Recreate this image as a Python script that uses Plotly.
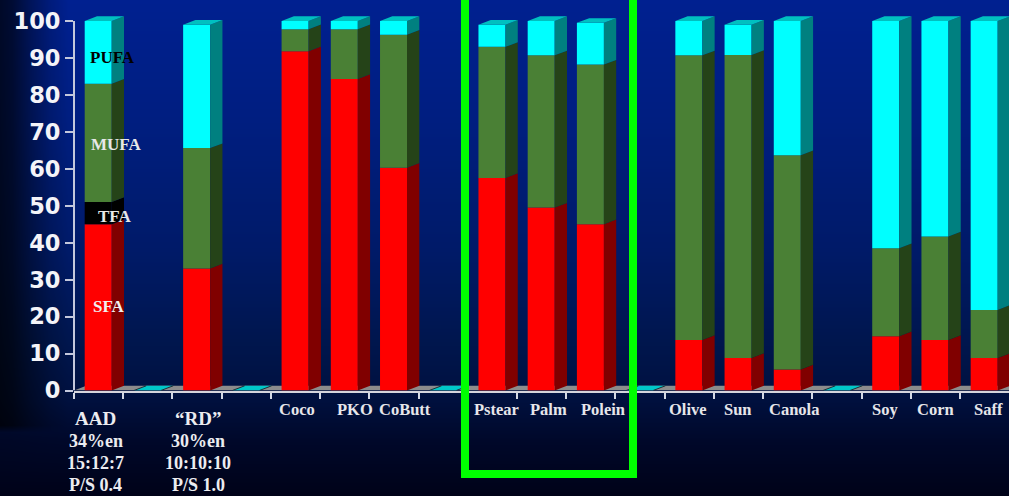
import base64
import struct
import zlib

import numpy as np
import plotly.graph_objects as go

# Fatty-acid composition (% of total) per diet or fat, placed on slots along the x axis.
slots = [0, 2, 4, 5, 6, 8, 9, 10, 12, 13, 14, 16, 17, 18]
empty_slots = [1, 3, 7, 11, 15]
names = ["AAD", "RD", "Coco", "PKO", "CoButt", "Pstear", "Palm", "Polein",
         "Olive", "Sun", "Canola", "Soy", "Corn", "Saff"]
sfa = [45, 33, 91.8, 84.3, 60.3, 57.5, 49.5, 45, 13.7, 8.8, 5.7, 14.7, 13.7, 8.8]
tfa = [6, 0, 0, 0, 0, 0, 0, 0, 0, 0, 0, 0, 0, 0]
mufa = [32, 32.6, 6, 13.5, 36, 35.5, 41.2, 43.2, 77, 82, 58, 23.8, 28, 13]
pufa = [17, 33.4, 2.2, 2.2, 3.7, 6, 9.3, 11.3, 9.3, 8.2, 36.3, 61.5, 58.3, 78.2]

y_ticks = list(range(0, 101, 10))
diet_notes = {
    "AAD": ["AAD", "34%en", "15:12:7", "P/S 0.4"],
    "RD": ["\u201cRD\u201d", "30%en", "10:10:10", "P/S 1.0"],
}
fatty_acid_tags = ["PUFA", "MUFA", "TFA", "SFA"]
tag_heights = [90, 66.5, 47, 22.7]
tag_nudges = [-2.5, 1, -0.5, -6]
tag_colors = ["#000000", "#e8e8e8", "#e8e8e8", "#f0f0f0"]

# Page geometry, in pixels.
W, H = 1009, 496
AXIS_LEFT, AXIS_BOTTOM = 74, 390.5
SLOT_PX, VALUE_PX = 49.22, 3.695
FIRST_BAR_CENTER = 98.2
BAR_PX = 27
DEPTH_X = 12.3 / SLOT_PX
DEPTH_Y = 4.7 / VALUE_PX
BAR_W = BAR_PX / SLOT_PX
X_LOW = (AXIS_LEFT - FIRST_BAR_CENTER) / SLOT_PX
X_HIGH = (W - FIRST_BAR_CENTER) / SLOT_PX
Y_HIGH = 105


def backdrop_uri():
    """Blue slide backdrop: bright at the top, fading down and towards the left edge."""
    xs = np.arange(W)
    ys = np.arange(H)
    blue = np.interp(ys, [0, 120, 250, 340, 400, 440, 496], [144, 128, 104, 78, 62, 42, 24])
    green = np.interp(ys, [0, 120, 250, 340, 400, 440, 496], [32, 30, 26, 22, 16, 8, 2])
    left = np.interp(xs, [0, 12, 30, 50, 68], [0.28, 0.36, 0.62, 0.86, 1.0])
    fade = np.interp(ys, [0, 425, 432, 496], [0, 0, 0.85, 1.0])[:, None]
    mix = left[None, :] * (1 - fade) + fade
    rgb = np.zeros((H, W, 3), dtype=np.uint8)
    rgb[..., 1] = np.round(green[:, None] * mix)
    rgb[..., 2] = np.round(blue[:, None] * mix)
    raw = b"".join(b"\x00" + row.tobytes() for row in rgb)

    def chunk(tag, body):
        return struct.pack(">I", len(body)) + tag + body + struct.pack(">I", zlib.crc32(tag + body))

    png = (b"\x89PNG\r\n\x1a\n"
           + chunk(b"IHDR", struct.pack(">IIBBBBB", W, H, 8, 2, 0, 0, 0))
           + chunk(b"IDAT", zlib.compress(raw, 9))
           + chunk(b"IEND", b""))
    return "data:image/png;base64," + base64.b64encode(png).decode()


def extruded_faces(bottoms, tops):
    """Outline of the right-hand face of each stacked segment."""
    xs, ys = [], []
    for slot, low, high in zip(slots, bottoms, tops):
        if high <= low:
            continue
        edge = slot + BAR_W / 2
        xs += [edge, edge + DEPTH_X, edge + DEPTH_X, edge, edge, None]
        ys += [low, low + DEPTH_Y, high + DEPTH_Y, high, low, None]
    return xs, ys


series = [
    ("SFA", sfa, "#ff0000", "#800000"),
    ("TFA", tfa, "#000000", "#000000"),
    ("MUFA", mufa, "#4a8035", "#254318"),
    ("PUFA", pufa, "#00ffff", "#008080"),
]

fig = go.Figure()
stack = np.zeros(len(slots))
for label, values, front, side in series:
    values = np.array(values, dtype=float)
    fig.add_bar(x=slots, y=values, base=stack, width=BAR_W, name=label,
                marker=dict(color=front, line=dict(width=0)), showlegend=False, hoverinfo="skip")
    fx, fy = extruded_faces(stack, stack + values)
    fig.add_scatter(x=fx, y=fy, mode="lines", fill="toself", fillcolor=side,
                    line=dict(width=0), showlegend=False, hoverinfo="skip")
    stack = stack + values

# Top faces of the finished stacks.
cap_x, cap_y = [], []
for slot, top in zip(slots, stack):
    left = slot - BAR_W / 2
    right = slot + BAR_W / 2
    cap_x += [left, left + DEPTH_X, right + DEPTH_X, right, left, None]
    cap_y += [top, top + DEPTH_Y, top + DEPTH_Y, top, top, None]
fig.add_scatter(x=cap_x, y=cap_y, mode="lines", fill="toself", fillcolor="#00c0c0",
                line=dict(width=0), showlegend=False, hoverinfo="skip")

shapes = []
# Grey floor of the chart, with cyan caps on the zero-height empty slots.
shapes.append(dict(type="path", layer="below", xref="x", yref="y", line=dict(width=0),
                   fillcolor="#8c8c8c",
                   path=f"M {X_LOW} 0 L {X_LOW + DEPTH_X} {DEPTH_Y} L {X_HIGH} {DEPTH_Y} L {X_HIGH} 0 Z"))
for slot in empty_slots:
    a, b = slot - BAR_W / 2, slot + BAR_W / 2
    shapes.append(dict(type="path", layer="below", xref="x", yref="y", line=dict(width=0),
                       fillcolor="#00c8c8",
                       path=f"M {a} 0 L {a + DEPTH_X} {DEPTH_Y} L {b + DEPTH_X} {DEPTH_Y} L {b} 0 Z"))
    for edge in (a, b):
        shapes.append(dict(type="line", layer="below", xref="x", yref="y", x0=edge, y0=0,
                           x1=edge + DEPTH_X, y1=DEPTH_Y, line=dict(color="#1c3038", width=1)))

# Vertical axis line, stopping at the top tick.
shapes.append(dict(type="line", xref="paper", yref="y",
                   x0=AXIS_LEFT / W, x1=AXIS_LEFT / W, y0=0, y1=100,
                   line=dict(color="#c4c8dc", width=2)))

# Green highlight bracket round the palm fractions.
gx0, gx1, gy = 465 / W, 633 / W, 1 - 474 / H
shapes.append(dict(type="path", xref="paper", yref="paper", line=dict(color="#00ff00", width=8),
                   path=f"M {gx0} 1.05 L {gx0} {gy} L {gx1} {gy} L {gx1} 1.05"))

annotations = []
serif = "Liberation Serif"
# Names under the axis; the two diets get a stack of notes instead.
label_nudges = {"Coco": 1.5, "PKO": 10.5, "CoButt": 11.5, "Pstear": 4.5, "Palm": 7.5, "Polein": 12.5,
                "Olive": -0.5, "Sun": -0.5, "Canola": 6.5, "Soy": -0.5, "Corn": 0.5, "Saff": 4.5}
for slot, name in zip(slots, names):
    if name in diet_notes:
        nudge = -2.5 if name == "AAD" else 1.5
        for row, (text, py) in enumerate(zip(diet_notes[name], [418, 441, 463, 485])):
            annotations.append(dict(x=slot, xref="x", xshift=nudge, y=1 - py / H, yref="paper",
                                    yanchor="middle", xanchor="center",
                                    text=f"<b>{text}</b>", showarrow=False,
                                    font=dict(family=serif, size=19 if row == 0 else 18, color="#ececf0")))
    else:
        annotations.append(dict(x=slot, xref="x", xshift=label_nudges[name], y=1 - 409 / H, yref="paper",
                                yanchor="middle", xanchor="center",
                                text=f"<b>{name}</b>", showarrow=False,
                                font=dict(family=serif, size=16.5, color="#e6e6ea")))

for tag, height, nudge, color in zip(fatty_acid_tags, tag_heights, tag_nudges, tag_colors):
    annotations.append(dict(x=slots[0], xref="x", xshift=nudge + 17, y=height, yref="y",
                            yanchor="middle", xanchor="center",
                            text=f"<b>{tag}</b>", showarrow=False,
                            font=dict(family=serif, size=17, color=color)))

fig.update_layout(
    width=W, height=H, autosize=False,
    margin=dict(l=0, r=0, t=0, b=0, pad=0, autoexpand=False),
    paper_bgcolor="#00001c", plot_bgcolor="rgba(0,0,0,0)",
    barmode="overlay", showlegend=False,
    images=[dict(source=backdrop_uri(), xref="paper", yref="paper", x=0, y=1, sizex=1, sizey=1,
                 sizing="stretch", layer="below")],
    shapes=shapes, annotations=annotations,
    xaxis=dict(domain=[AXIS_LEFT / W, 1], range=[X_LOW, X_HIGH], showgrid=False, zeroline=False,
               showline=True, linecolor="#d4d4dc", linewidth=2, showticklabels=False,
               ticks="outside", ticklen=6, tickwidth=2, tickcolor="#d4d8e4",
               tick0=X_LOW, dtick=1, tickmode="linear"),
    yaxis=dict(domain=[1 - AXIS_BOTTOM / H, 1 - (AXIS_BOTTOM - Y_HIGH * VALUE_PX) / H], range=[0, Y_HIGH],
               showgrid=False, zeroline=False, showline=False,
               tickmode="array", tickvals=y_ticks, ticktext=[str(v) for v in y_ticks],
               ticks="outside", ticklen=8, tickwidth=2, tickcolor="#c4c8dc",
               tickfont=dict(family="DejaVu Sans", size=22.5, color="#f4f4f8", weight="bold")),
)

fig.write_html("out.html")
